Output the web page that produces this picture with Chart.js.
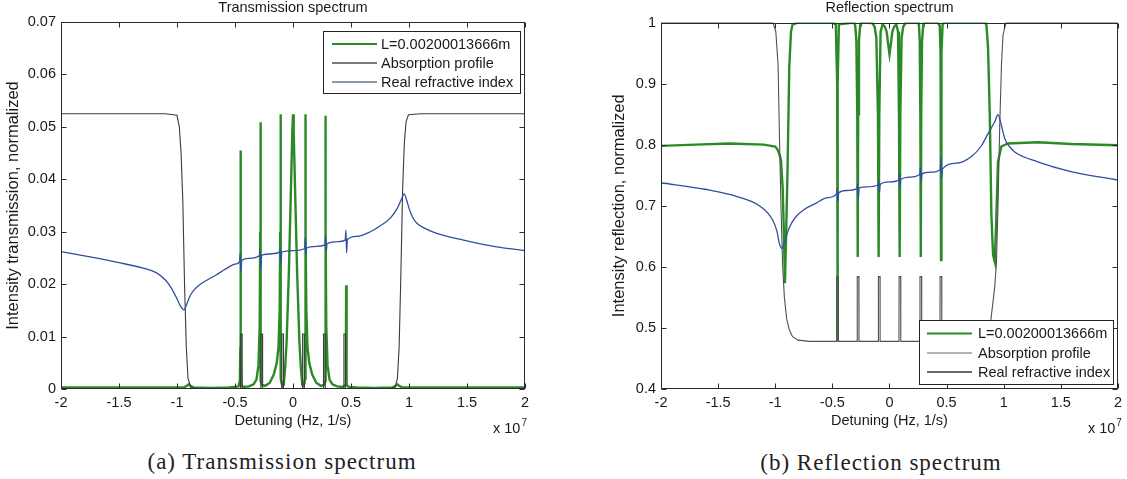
<!DOCTYPE html>
<html><head><meta charset="utf-8">
<script src="https://cdn.jsdelivr.net/npm/chart.js@4.4.1/dist/chart.umd.min.js"></script>
<style>
html,body{margin:0;padding:0;background:#fff;width:1127px;height:479px;overflow:hidden;}
#wrap{position:relative;width:1127px;height:479px;}
canvas{position:absolute;top:0;}
#cT{left:0;} #cR{left:560px;}
.cap{position:absolute;font-family:'Liberation Serif','Times New Roman',serif;font-size:23px;letter-spacing:1px;color:#222;white-space:nowrap;transform:translate(-50%,-50%);}
</style></head>
<body><div id="wrap">
<canvas id="cT" width="545" height="440"></canvas>
<canvas id="cR" width="567" height="440"></canvas>
<div class="cap" style="left:282px;top:462px">(a) Transmission spectrum</div>
<div class="cap" style="left:881px;top:463px">(b) Reflection spectrum</div>
</div>
<script>
// ---------- data ----------
const seriesLabels = ['L=0.00200013666m', 'Absorption profile', 'Real refractive index'];
const xTicks = [-2, -1.5, -1, -0.5, 0, 0.5, 1, 1.5, 2];
const xTickLabels = ['-2', '-1.5', '-1', '-0.5', '0', '0.5', '1', '1.5', '2'];
const tYTicks = [0, 0.01, 0.02, 0.03, 0.04, 0.05, 0.06, 0.07];
const tYTickLabels = ['0', '0.01', '0.02', '0.03', '0.04', '0.05', '0.06', '0.07'];
const rYTicks = [0.4, 0.5, 0.6, 0.7, 0.8, 0.9, 1];
const rYTickLabels = ['0.4', '0.5', '0.6', '0.7', '0.8', '0.9', '1'];

// Transmission: [detuning (x1e7 Hz), value]
const transGreen = [
[-2,0.0003],[-1.5,0.0003],[-1.0,0.0003],[-0.94,0.0003],[-0.915,0.0006],[-0.9,0.0009],[-0.885,0.0006],[-0.86,0.0003],
[-0.7,0.0002],[-0.55,0.0003],[-0.47,0.0005],[-0.458,0.0015],[-0.454,0.008],[-0.452,0.0455],[-0.45,0.006],[-0.447,0.0008],
[-0.43,0.0004],[-0.38,0.0005],[-0.34,0.0009],[-0.315,0.0018],[-0.298,0.0045],[-0.287,0.012],[-0.283,0.03],[-0.281,0.0509],
[-0.279,0.006],[-0.277,0.0015],[-0.27,0.0008],[-0.24,0.0006],[-0.2,0.0012],[-0.165,0.0028],[-0.14,0.005],[-0.125,0.008],
[-0.115,0.015],[-0.11,0.03],[-0.108,0.0524],[-0.106,0.008],[-0.104,0.002],[-0.097,0.001],[-0.088,0.0006],[-0.08,0.0008],
[-0.068,0.004],[-0.055,0.009],[-0.036,0.022],[-0.018,0.038],[-0.006,0.049],[0,0.0524],[0.006,0.049],[0.018,0.038],
[0.036,0.022],[0.055,0.009],[0.068,0.004],[0.08,0.0008],[0.088,0.0006],[0.097,0.001],[0.104,0.002],[0.106,0.008],
[0.108,0.0524],[0.11,0.03],[0.115,0.015],[0.125,0.008],[0.14,0.005],[0.165,0.0028],[0.2,0.0012],[0.24,0.0006],
[0.27,0.0008],[0.277,0.0015],[0.279,0.006],[0.281,0.0521],[0.283,0.03],[0.287,0.012],[0.298,0.0045],[0.315,0.0018],
[0.34,0.0009],[0.38,0.0005],[0.43,0.0004],[0.452,0.0008],[0.456,0.005],[0.458,0.0198],[0.46,0.005],[0.464,0.0008],
[0.48,0.0004],[0.55,0.0003],[0.7,0.0002],[0.86,0.0003],[0.885,0.0006],[0.9,0.0009],[0.915,0.0006],[0.94,0.0003],
[1.0,0.0003],[1.5,0.0003],[2,0.0003]
];
const transAbsorption = [
[-2,0.0525],[-1.1,0.0525],[-1.0,0.0522],[-0.98,0.050],[-0.965,0.045],[-0.95,0.036],[-0.935,0.02],[-0.92,0.008],
[-0.905,0.002],[-0.88,0.0003],[-0.8,0],
[-0.454,0],[-0.453,0.0105],[-0.439,0.0105],[-0.438,0],
[-0.278,0],[-0.277,0.0105],[-0.263,0.0105],[-0.262,0],
[-0.098,0],[-0.097,0.0105],[-0.083,0.0105],[-0.082,0],
[0.082,0],[0.083,0.0105],[0.097,0.0105],[0.098,0],
[0.262,0],[0.263,0.0105],[0.277,0.0105],[0.278,0],
[0.438,0],[0.439,0.0105],[0.453,0.0105],[0.454,0],
[0.8,0],[0.88,0.0003],[0.9,0.002],[0.915,0.008],[0.93,0.022],[0.945,0.038],[0.96,0.047],[0.975,0.051],
[0.995,0.0523],[1.1,0.0525],[2,0.0525]
];
const transIndex = [
[-2,0.0262],[-1.75,0.0252],[-1.5,0.0241],[-1.3,0.0231],[-1.18,0.0222],[-1.1,0.0208],[-1.05,0.0193],[-1.0,0.0172],
[-0.97,0.0158],[-0.94,0.0151],[-0.915,0.0162],[-0.895,0.0174],[-0.86,0.0187],[-0.81,0.0198],[-0.74,0.0208],[-0.667,0.0217],
[-0.58,0.0229],[-0.5,0.0238],[-0.46,0.0243],[-0.455,0.0259],[-0.449,0.0222],[-0.442,0.0245],[-0.38,0.0249],[-0.29,0.0254],
[-0.283,0.0266],[-0.277,0.0228],[-0.27,0.0255],[-0.18,0.0258],[-0.115,0.0261],[-0.11,0.0268],[-0.104,0.0237],[-0.097,0.0261],
[0,0.0264],[0.1,0.0268],[0.106,0.0288],[0.112,0.0256],[0.118,0.0269],[0.2,0.0272],[0.275,0.0275],[0.281,0.0292],
[0.287,0.0262],[0.293,0.0277],[0.39,0.0281],[0.45,0.0284],[0.456,0.0303],[0.462,0.026],[0.469,0.0285],[0.55,0.0291],
[0.667,0.0300],[0.75,0.0311],[0.839,0.0326],[0.9,0.0345],[0.935,0.0362],[0.959,0.0372],[0.98,0.0360],[1.0,0.0345],
[1.03,0.0328],[1.068,0.0316],[1.15,0.0305],[1.24,0.0297],[1.47,0.0284],[1.757,0.0271],[2,0.0264]
];

// Reflection
const reflGreen = [
[-2,0.798],[-1.7,0.800],[-1.4,0.802],[-1.1,0.800],[-1.0,0.797],[-0.98,0.792],[-0.965,0.785],[-0.95,0.775],
[-0.935,0.73],[-0.925,0.66],[-0.915,0.573],[-0.905,0.65],[-0.892,0.764],[-0.877,0.928],[-0.862,0.985],[-0.848,0.997],
[-0.8,1.0],[-0.5,1.0],[-0.47,0.997],[-0.458,0.9],[-0.455,0.478],[-0.452,0.9],[-0.443,0.997],[-0.31,1.0],
[-0.30,0.995],[-0.29,0.97],[-0.282,0.85],[-0.278,0.616],[-0.274,0.85],[-0.267,0.97],[-0.257,0.995],[-0.25,1.0],
[-0.15,0.999],[-0.13,0.993],[-0.115,0.975],[-0.101,0.85],[-0.095,0.616],[-0.089,0.85],[-0.078,0.985],[-0.06,0.997],
[-0.04,0.993],[-0.025,0.985],[-0.012,0.965],[0,0.948],[0.012,0.965],[0.025,0.985],[0.04,0.993],[0.06,0.997],
[0.075,0.985],[0.083,0.85],[0.089,0.616],[0.095,0.85],[0.106,0.975],[0.12,0.993],[0.14,0.999],[0.25,1.0],
[0.258,0.995],[0.265,0.97],[0.27,0.85],[0.274,0.616],[0.278,0.85],[0.285,0.97],[0.295,0.995],[0.30,1.0],
[0.42,1.0],[0.44,0.995],[0.447,0.95],[0.451,0.611],[0.455,0.95],[0.465,0.997],[0.48,1.0],[0.84,1.0],
[0.849,0.995],[0.863,0.958],[0.878,0.848],[0.892,0.685],[0.907,0.619],[0.922,0.608],[0.936,0.685],[0.95,0.772],
[0.979,0.797],[1.037,0.802],[1.3,0.804],[1.59,0.801],[2,0.799]
];
const reflAbsorption = [
[-2,1],[-1.02,1],[-0.995,0.985],[-0.975,0.93],[-0.964,0.82],[-0.95,0.7],[-0.935,0.6],[-0.92,0.55],
[-0.9,0.515],[-0.877,0.497],[-0.85,0.486],[-0.8,0.48],[-0.7,0.478],
[-0.463,0.478],[-0.462,0.584],[-0.448,0.584],[-0.447,0.478],
[-0.283,0.478],[-0.282,0.584],[-0.268,0.584],[-0.267,0.478],
[-0.098,0.478],[-0.097,0.584],[-0.083,0.584],[-0.082,0.478],
[0.083,0.478],[0.084,0.584],[0.098,0.584],[0.099,0.478],
[0.266,0.478],[0.267,0.584],[0.281,0.584],[0.282,0.478],
[0.442,0.478],[0.443,0.584],[0.457,0.584],[0.458,0.478],
[0.7,0.478],[0.8,0.48],[0.85,0.486],[0.877,0.497],[0.898,0.53],[0.92,0.565],[0.936,0.605],[0.95,0.7],
[0.965,0.83],[0.98,0.93],[0.994,0.98],[1.02,1],[2,1]
];
const reflIndex = [
[-2,0.7377],[-1.617,0.727],[-1.327,0.7147],[-1.124,0.698],[-1.023,0.6766],[-0.985,0.658],[-0.964,0.6385],[-0.941,0.630],
[-0.925,0.637],[-0.906,0.649],[-0.87,0.667],[-0.819,0.682],[-0.747,0.694],[-0.645,0.704],[-0.55,0.713],[-0.465,0.719],
[-0.458,0.728],[-0.452,0.7066],[-0.445,0.721],[-0.38,0.725],[-0.285,0.728],[-0.279,0.736],[-0.273,0.712],[-0.266,0.729],
[-0.2,0.731],[-0.1,0.734],[-0.094,0.742],[-0.088,0.722],[-0.081,0.735],[0,0.739],[0.08,0.742],[0.086,0.752],
[0.092,0.73],[0.099,0.743],[0.18,0.747],[0.265,0.751],[0.271,0.763],[0.277,0.737],[0.284,0.752],[0.36,0.755],
[0.444,0.759],[0.45,0.78],[0.456,0.745],[0.463,0.76],[0.6,0.77],[0.72,0.781],[0.8,0.797],[0.863,0.818],
[0.92,0.837],[0.95,0.849],[0.979,0.832],[1.009,0.810],[1.05,0.797],[1.096,0.788],[1.298,0.772],[1.588,0.756],[2,0.742]
];

// ---------- rendering ----------
const FONT = "'Liberation Sans', Arial, Helvetica, sans-serif";
const TXT = '#1a1a1a';
const toXY = arr => arr.map(p => ({x: p[0], y: p[1]}));

const deco = {
  id: 'deco',
  afterDatasetsDraw(chart, args, o) {
    const {ctx, chartArea: a, scales: {x, y}} = chart;
    ctx.save();
    const L = Math.round(a.left) + 0.5, R = Math.round(a.right) - 0.5;
    const T = Math.round(a.top) + 0.5, B = Math.round(a.bottom) - 0.5;
    ctx.strokeStyle = '#2a2a2a'; ctx.lineWidth = 1;
    ctx.strokeRect(L, T, R - L, B - T);
    ctx.beginPath();
    x.ticks.forEach(t => {
      const px = Math.round(x.getPixelForValue(t.value)) + 0.5;
      ctx.moveTo(px, B); ctx.lineTo(px, B - 5);
      ctx.moveTo(px, T); ctx.lineTo(px, T + 5);
    });
    y.ticks.forEach(t => {
      const py = Math.round(y.getPixelForValue(t.value)) + 0.5;
      ctx.moveTo(L, py); ctx.lineTo(L + 5, py);
      ctx.moveTo(R, py); ctx.lineTo(R - 5, py);
    });
    ctx.stroke();
    // title
    ctx.fillStyle = TXT;
    ctx.font = '14.5px ' + FONT;
    ctx.textAlign = 'center'; ctx.textBaseline = 'middle';
    ctx.fillText(o.title, (a.left + a.right) / 2, 8);
    // exponent
    ctx.textAlign = 'left'; ctx.textBaseline = 'alphabetic';
    ctx.font = '14.5px ' + FONT;
    const ex = a.right - o.expRight;
    ctx.fillText('x 10', ex, a.bottom + 44);
    const w = ctx.measureText('x 10').width;
    ctx.font = '10px ' + FONT;
    ctx.fillText('7', ex + w + 1, a.bottom + 37);
    // legend box
    const lg = o.legend;
    const bx = a.right - lg.right - lg.width;
    const by = lg.top != null ? a.top + lg.top : a.bottom - lg.bottom - lg.height;
    ctx.fillStyle = '#fff';
    ctx.fillRect(Math.round(bx) + 0.5, Math.round(by) + 0.5, lg.width, lg.height);
    ctx.strokeStyle = '#222';
    ctx.strokeRect(Math.round(bx) + 0.5, Math.round(by) + 0.5, lg.width, lg.height);
    ctx.font = '14.5px ' + FONT;
    ctx.textBaseline = 'middle';
    chart.data.datasets.forEach((ds, i) => {
      const ry = by + lg.rows[i];
      ctx.strokeStyle = lg.colors[i]; ctx.lineWidth = lg.widths[i];
      ctx.beginPath(); ctx.moveTo(bx + lg.lineStart, ry); ctx.lineTo(bx + lg.lineEnd, ry); ctx.stroke();
      ctx.fillStyle = TXT;
      ctx.fillText(ds.label, bx + lg.textX, ry + 0.5);
    });
    ctx.restore();
  }
};

function makeChart(id, cfg) {
  const tickFont = {family: FONT, size: 14.5};
  const yTitleFont = {family: FONT, size: 16.5};
  return new Chart(document.getElementById(id), {
    type: 'line',
    data: {
      datasets: [
        {label: seriesLabels[0], data: toXY(cfg.green), borderColor: '#2a8a26', borderWidth: 2.4, pointRadius: 0, tension: 0, order: 3},
        {label: seriesLabels[1], data: toXY(cfg.abs), borderColor: cfg.absColor, borderWidth: 1.1, pointRadius: 0, tension: 0, order: 2},
        {label: seriesLabels[2], data: toXY(cfg.idx), borderColor: '#2f4f9e', borderWidth: 1.3, pointRadius: 0, cubicInterpolationMode: 'monotone', order: 1}
      ]
    },
    options: {
      responsive: false, animation: false, devicePixelRatio: 1,
      layout: {padding: cfg.padding},
      plugins: {legend: {display: false}, tooltip: {enabled: false}, title: {display: false},
        deco: {title: cfg.title, expRight: cfg.expRight, legend: cfg.legend}},
      scales: {
        x: {
          type: 'linear', min: -2, max: 2,
          afterBuildTicks: s => { s.ticks = xTicks.map(v => ({value: v})); },
          afterFit: s => { s.height = 51; },
          grid: {display: false, drawTicks: false}, border: {display: false},
          ticks: {callback: (v, i) => xTickLabels[i], padding: 5, font: tickFont, color: TXT, autoSkip: false, maxRotation: 0},
          title: {display: true, text: 'Detuning (Hz, 1/s)', font: tickFont, color: TXT, padding: {top: 0, bottom: 10}}
        },
        y: {
          type: 'linear', min: cfg.yMin, max: cfg.yMax,
          afterBuildTicks: s => { s.ticks = cfg.yTicks.map(v => ({value: v})); },
          afterFit: s => { s.width = cfg.yWidth; },
          grid: {display: false, drawTicks: false}, border: {display: false},
          ticks: {callback: (v, i) => cfg.yLabels[i], padding: 5, font: tickFont, color: TXT, autoSkip: false},
          title: {display: true, text: cfg.yTitle, font: yTitleFont, color: TXT, padding: {top: cfg.yTitlePad, bottom: 0}}
        }
      }
    },
    plugins: [deco]
  });
}

makeChart('cT', {
  green: transGreen, abs: transAbsorption, idx: transIndex, absColor: '#3c3c3c',
  yMin: 0, yMax: 0.07, yTicks: tYTicks, yLabels: tYTickLabels, yWidth: 61, yTitlePad: 4,
  yTitle: 'Intensity transmission, normalized', title: 'Transmission spectrum',
  padding: {top: 22, right: 20, bottom: 0, left: 0}, expRight: 32,
  legend: {right: 5, top: 9, width: 197, height: 62, rows: [13, 32, 51], lineStart: 9, lineEnd: 54, textX: 58,
    colors: ['#2a8a26', '#5a4a48', '#66788a'], widths: [1.8, 1.4, 1.4]}
});
makeChart('cR', {
  green: reflGreen, abs: reflAbsorption, idx: reflIndex, absColor: '#505050',
  yMin: 0.4, yMax: 1, yTicks: rYTicks, yLabels: rYTickLabels, yWidth: 51, yTitlePad: 0,
  yTitle: 'Intensity reflection, normalized', title: 'Reflection spectrum',
  padding: {top: 22.5, right: 7, bottom: 0, left: 50}, expRight: 30,
  legend: {right: 5, bottom: 5.5, width: 194, height: 64, rows: [14, 33.5, 52.5], lineStart: 8, lineEnd: 53, textX: 59,
    colors: ['#2a8a26', '#9a9a9a', '#3a3a3a'], widths: [1.8, 1.4, 1.4]}
});
</script>
</body></html>
